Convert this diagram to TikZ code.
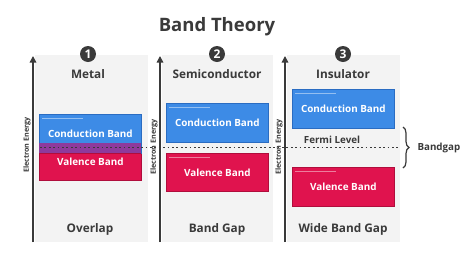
\documentclass[tikz,border=0pt]{standalone}
\usepackage{fontspec}
\setmainfont{Open Sans}
\usetikzlibrary{decorations.pathreplacing,arrows.meta}
\definecolor{cb}{HTML}{3D8BE6}
\definecolor{cbd}{HTML}{2A6CC2}
\definecolor{vb}{HTML}{E0134E}
\definecolor{vbd}{HTML}{B00D3C}
\definecolor{ov}{HTML}{8E3A9C}
\definecolor{pg}{HTML}{F3F3F3}
\definecolor{ink}{HTML}{3A3A3A}
\begin{document}
\begin{tikzpicture}[x=1pt,y=-1pt,
  panelbg/.style={fill=pg,draw=none},
  bandbox/.style={draw,line width=0.8pt,minimum width=102pt,inner sep=0pt,anchor=north west,text=white,font=\fontsize{9.9}{11}\selectfont\bfseries},
  cband/.style={bandbox,fill=cb,draw=cbd},
  vband/.style={bandbox,fill=vb,draw=vbd},
  shine/.style={line width=0.8pt,white,opacity=0.45},
  numc/.style={circle,fill=ink,text=white,minimum size=16pt,inner sep=0pt,font=\fontsize{12}{14}\selectfont\bfseries},
  ptitle/.style={text=ink,font=\fontsize{11.8}{14}\selectfont\bfseries},
  axis/.style={draw=ink,line width=1.4pt,-{Triangle[width=6.5pt,length=6.5pt]}},
  elab/.style={rotate=90,text=ink,font=\fontsize{7.2}{8}\selectfont\bfseries},
  fermi/.style={draw=ink,line width=1.4pt,dash pattern=on 1.8pt off 2.6pt},
  small/.style={text=ink,font=\fontsize{9.8}{11}\selectfont\bfseries}
]
\useasboundingbox[fill=white] (0,0) rectangle (474,274);
% title
\node[text=ink,font=\fontsize{18.5}{22}\selectfont\bfseries] (title) at (217,27) {Band Theory};
% panel backgrounds
\path[panelbg] (35,55) rectangle (148,242);
\path[panelbg] (162,55) rectangle (273,242);
\path[panelbg] (287,55) rectangle (400,242);
% axes
\coordinate (a1b) at (33,242); \coordinate (a1t) at (33,56);
\coordinate (a2b) at (160,242); \coordinate (a2t) at (160,56);
\coordinate (a3b) at (285,242); \coordinate (a3t) at (285,56);
\draw[axis] (a1b) -- (a1t);
\draw[axis] (a2b) -- (a2t);
\draw[axis] (a3b) -- (a3t);
\node[elab] (e1) at (27,145) {Electron Energy};
\node[elab] (e2) at (154,147) {Electron Energy};
\node[elab] (e3) at (279,147) {Electron Energy};
% numbers and titles
\node[numc] (n1) at (88,54) {1};
\node[numc] (n2) at (217,54) {2};
\node[numc] (n3) at (343,54) {3};
\node[ptitle] (t1) at (88,74) {Metal};
\node[ptitle] (t2) at (217,74) {Semiconductor};
\node[ptitle] (t3) at (343,74) {Insulator};
% panel 1 bands
\node[vband,minimum height=37pt] (v1) at (39,143) {Valence Band};
\node[cband,minimum height=39pt] (c1) at (39,114) {Conduction Band};
\fill[ov] (39.4,143) rectangle (140.6,153);
\draw[vbd,line width=0.8pt] (39,153) -- (141,153);
\draw[shine] (42,118) -- (83,118);
% panel 2 bands
\node[cband,minimum height=39pt] (c2) at (166,103) {Conduction Band};
\node[vband,minimum height=38pt] (v2) at (166,153) {Valence Band};
\draw[shine] (169,107) -- (210,107);
\draw[shine] (169,157) -- (210,157);
% panel 3 bands
\node[cband,minimum height=39pt] (c3) at (292,89) {Conduction Band};
\node[vband,minimum height=39pt] (v3) at (292,167) {Valence Band};
\draw[shine] (295,93) -- (336,93);
\draw[shine] (295,171) -- (336,171);
% fermi level
\coordinate (f0) at (40,147.5); \coordinate (f1) at (400,147.5);
\draw[fermi] (f0) -- (f1);
\node[small] (fl) at (332,139.5) {Fermi Level};
% brace
\coordinate (b0) at (403,127); \coordinate (b1) at (403,168);
\draw[draw=ink,line width=1.2pt,decorate,decoration={brace,amplitude=6pt}] (b0) -- (b1);
\node[small,anchor=west] (bg) at (414,147.5) {Bandgap};
% bottom labels
\node[ptitle] (o1) at (90,229) {Overlap};
\node[ptitle] (o2) at (217,229) {Band Gap};
\node[ptitle] (o3) at (343,229) {Wide Band Gap};
\end{tikzpicture}
\end{document}
